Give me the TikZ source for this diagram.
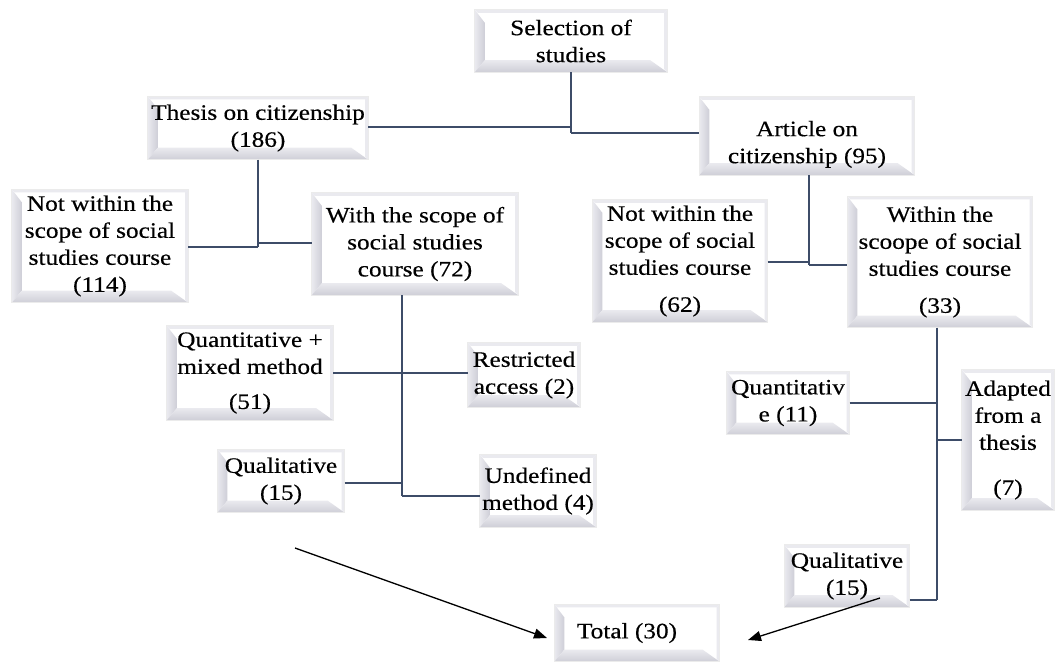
\documentclass[tikz,border=0pt]{standalone}
\usepackage{fontspec}
\setmainfont{Liberation Serif}[FakeStretch=1.15,FakeBold=0.4]
\usetikzlibrary{arrows.meta,calc}
\definecolor{connc}{RGB}{61,76,104}
\definecolor{bev}{RGB}{206,206,215}
\definecolor{bevl}{RGB}{234,234,239}
\pgfdeclarelayer{bg}
\pgfsetlayers{bg,main}
\tikzset{
  box/.style={inner sep=2pt, align=center, font=\fontsize{22}{27}\selectfont},
  conn/.style={draw=connc, line width=2.6pt, line join=miter},
  arr/.style={draw=black, line width=1.3pt, -{Triangle[length=13pt,width=10pt]}}
}
\newcommand\bevelbox[1]{%
  \fill[white] (#1.south west) rectangle (#1.north east);
  \fill[bevl] (#1.north west) -- (#1.north east) -- ($(#1.north east)+(-3pt,-3pt)$) -- ($(#1.north west)+(3pt,-3pt)$) -- cycle;
  \fill[bevl] (#1.north east) -- (#1.south east) -- ($(#1.south east)+(-3pt,3pt)$) -- ($(#1.north east)+(-3pt,-3pt)$) -- cycle;
  \shade[left color=bevl, right color=bev] (#1.south west) -- (#1.north west) -- ($(#1.north west)+(10pt,-13pt)$) -- ($(#1.south west)+(10pt,12pt)$) -- cycle;
  \shade[bottom color=bev, top color=bevl] (#1.south west) -- ($(#1.south west)+(10pt,12pt)$) -- ($(#1.south east)+(-17pt,12pt)$) -- (#1.south east) -- cycle;
  \draw[gray!16, line width=1pt] (#1.south west) rectangle (#1.north east);
}
\begin{document}
\begin{tikzpicture}[x=1pt,y=-1pt]
\useasboundingbox (0,0) rectangle (1057,667);
\begin{pgfonlayer}{bg}
\fill[white] (0,0) rectangle (1057,667);
\end{pgfonlayer}

\node[box, minimum width=192pt, minimum height=62pt] (sel) at (571,41) {Selection of\\studies};
\node[box, minimum width=220pt, minimum height=63pt] (thesis) at (258,128) {Thesis on citizenship\\(186)};
\node[box, minimum width=215pt, minimum height=78pt] (article) at (807,136) {\rule{0pt}{32pt}Article on\\citizenship (95)};
\node[box, minimum width=176pt, minimum height=113pt] (notL) at (100,246) {Not within the\\scope of social\\studies course\\(114)};
\node[box, minimum width=206pt, minimum height=102pt] (withL) at (415,244) {With the scope of\\social studies\\course (72)};
\node[box, minimum width=175pt, minimum height=122pt] (notR) at (680,261) {Not within the\\scope of social\\studies course\\[10pt](62)};
\node[box, minimum width=185pt, minimum height=131pt] (withR) at (940,262) {Within the\\scoope of social\\studies course\\[10pt](33)};
\node[box, minimum width=166pt, minimum height=94pt] (quantL) at (250,373) {Quantitative +\\mixed method\\[8pt](51)};
\node[box, minimum width=112pt, minimum height=64pt] (restr) at (524,375) {Restricted\\access (2)};
\node[box, minimum width=127pt, minimum height=63pt] (qualL) at (281,481) {Qualitative\\(15)};
\node[box, minimum width=107pt, minimum height=72pt] (undef) at (538,491) {Undefined\\method (4)};
\node[box, minimum width=123pt, minimum height=63pt] (quantR) at (788,403) {Quantitativ\\e (11)};
\node[box, minimum width=92pt, minimum height=140pt] (adapt) at (1008,440) {Adapted\\from a\\thesis\\[18pt](7)};
\node[box, minimum width=125pt, minimum height=62pt] (qualR) at (847,576) {Qualitative\\(15)};
\node[box, minimum width=165pt, minimum height=57pt] (total) at (637,633) {Total (30)\hspace*{20pt}};

\begin{pgfonlayer}{bg}
\foreach \n in {sel,thesis,article,notL,withL,notR,withR,quantL,restr,qualL,undef,quantR,adapt,qualR,total} {\bevelbox{\n}}
\end{pgfonlayer}

% top split
\coordinate (j1a) at (571,127);
\coordinate (j1b) at (571,133);
\draw[conn] (sel.south) -- (j1b);
\draw[conn] (thesis.east |- j1a) -- (j1a);
\draw[conn] (j1b) -- (article.west |- j1b);

% thesis split
\coordinate (j2) at (258,247);
\coordinate (j2a) at (258,243);
\draw[conn] (thesis.south) -- (j2);
\draw[conn] (notL.east |- j2) -- (j2);
\draw[conn] (j2a) -- (withL.west |- j2a);

% article split
\coordinate (j3) at (809,265);
\coordinate (j3a) at (809,262);
\draw[conn] (article.south -| j3) -- (j3);
\draw[conn] (notR.east |- j3a) -- (j3a);
\draw[conn] (j3) -- (withR.west |- j3);

% with scope (72) split
\coordinate (j4) at (402,496);
\coordinate (b1) at (402,373);
\coordinate (b2) at (402,483);
\draw[conn] (withL.south -| j4) -- (j4);
\draw[conn] (quantL.east |- b1) -- (b1);
\draw[conn] (b1) -- (restr.west |- b1);
\draw[conn] (qualL.east |- b2) -- (b2);
\draw[conn] (j4) -- (undef.west |- j4);

% within scope (33) split
\coordinate (j5) at (937,600);
\coordinate (b3) at (937,403);
\coordinate (b4) at (937,440);
\draw[conn] (withR.south -| j5) -- (j5);
\draw[conn] (quantR.east |- b3) -- (b3);
\draw[conn] (b4) -- (adapt.west |- b4);
\draw[conn] (qualR.east |- j5) -- (j5);

% arrows to total
\coordinate (a1) at (295,548);
\coordinate (t1) at (547,638);
\coordinate (a2) at (880,598);
\coordinate (t2) at (748,640);
\draw[arr] (a1) -- (t1);
\draw[arr] (a2) -- (t2);
\end{tikzpicture}
\end{document}
